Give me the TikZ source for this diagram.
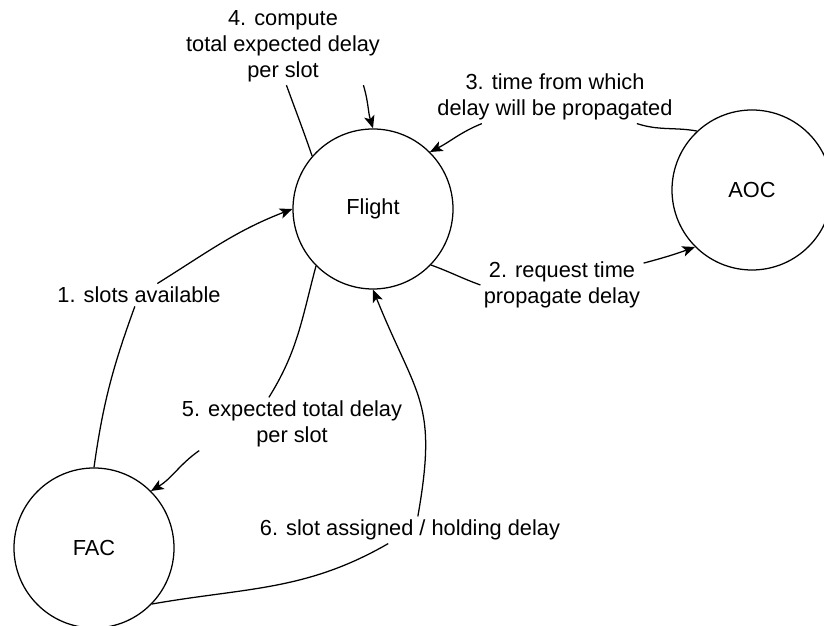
\documentclass[tikz,border=0pt]{standalone}
\usepackage{fontspec}
\setmainfont{Liberation Sans}
\usetikzlibrary{arrows.meta}

\begin{document}
\begin{tikzpicture}[>={Stealth[length=9pt,width=7.5pt,inset=2.2pt]},line width=0.9pt,
    font=\fontsize{15.5}{18.5}\selectfont,every node/.style={align=center},
    agent/.style={draw,circle,minimum size=4cm,inner sep=0pt},
    msg/.style={inner sep=2pt}]
    \useasboundingbox (0,0) rectangle (20.6,15.65);
    \clip (0,0) rectangle (20.6,15.65);
    % agents
    \node[agent] (flight) at (9.325,10.425) {Flight};
    \node[agent] (aoc) at (18.8,10.9) {AOC};
    \node[agent] (fac) at (2.35,1.95) {FAC};
    % messages
    \node[msg] (m1) at (3.475,8.275) {1. slots available};
    \node[msg] (m2) at (14.05,8.525) {2. request time\\propagate delay};
    \node[msg] (m3) at (13.875,13.225) {3. time from which\\delay will be propagated};
    \node[msg] (m4) at (7.075,14.5) {4. compute\\total expected delay\\per slot};
    \node[msg] (m5) at (7.3,5.05) {5. expected total delay\\per slot};
    \node[msg] (m6) at (10.25,2.4) {6. slot assigned / holding delay};
    \draw[->] (fac.north) to[out=82,in=250] (m1) (m1) to[out=32,in=201] (flight.west);
    \draw[->] (flight.-44) to[out=-20,in=160] (m2.west) (m2) to[out=15,in=200] (aoc.225);
    \draw[->] (aoc.133) to[out=170,in=-18] (m3) (m3.200) to[out=202,in=27] (flight.45);
    \draw[->] (flight.139) to[out=109,in=-70] (m4.-85) (m4.-26) to[out=-73,in=107] (flight.north);
    \draw[->] (flight.225) to[out=255,in=58] (m5.131) (m5.196) to[out=215,in=31] (fac.45);
    \draw[->] (fac.-44) to[out=10,in=210] (m6.212) (m6.60) to[out=80,in=-68,looseness=1.3] (flight.south);
\end{tikzpicture}
\end{document}
